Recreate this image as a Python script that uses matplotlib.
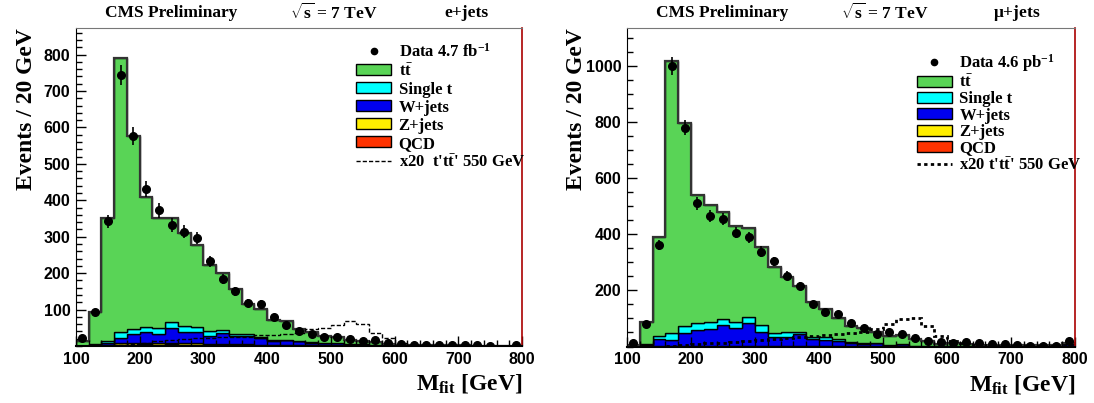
import numpy as np
import matplotlib
matplotlib.use("Agg")
from matplotlib import pyplot as plt
from matplotlib.patches import Patch
from matplotlib.lines import Line2D
from matplotlib.ticker import MultipleLocator

plt.rcParams['font.family'] = ['Liberation Serif', 'DejaVu Serif']
plt.rcParams['font.weight'] = 'bold'
plt.rcParams['mathtext.fontset'] = 'custom'
plt.rcParams['mathtext.rm'] = 'Liberation Serif:bold'
plt.rcParams['mathtext.bf'] = 'Liberation Serif:bold'
plt.rcParams['mathtext.it'] = 'Liberation Serif:bold'

# bins: 20 GeV from 100 to 800
edges = np.arange(100, 801, 20)
centers = edges[:-1] + 10

# ---- e+jets ----
tt_e = [14, 88, 338, 754, 530, 357, 302, 286, 254, 226, 181, 157, 123, 84, 76, 55, 52, 34,
        28, 20, 16, 12, 10, 7, 3, 2, 1.5, 1.5, 1.5, 1, 1, 0.5, 0.5, 0.5, 0.5]
st_e = [0.5, 2, 6, 17, 13, 14, 16, 16, 17, 14, 12, 8, 7, 4, 3, 2, 1, 1,
        1, 1, 1, 1, 1, 1, 0.5, 0.2, 0.3, 0.1, 0.1, 0.1, 0.1, 0.1, 0.1, 0.1, 0.1]
w_e = [0.5, 2.5, 6.5, 14, 27, 29, 27, 41, 31, 31, 22, 30, 22, 23, 18, 12, 13, 11,
       7.5, 6, 6, 3.5, 3.5, 2.7, 1.4, 0.7, 0.6, 0.4, 0.4, 0.4, 0.4, 0.4, 0.4, 0.4, 0.4]
z_e = [0, 0.2, 0.5, 3, 3, 4, 3, 4, 3, 3, 2, 2, 2, 2, 1, 1, 1, 0.5,
       0.5, 0.3, 0.5, 0.2, 0.2, 0.1, 0, 0, 0, 0, 0, 0, 0, 0, 0, 0, 0]
qcd_e = [0, 0.3, 1, 4, 4, 5, 4, 5, 4, 4, 4, 4, 3, 3, 3, 2, 2, 1.5,
         1, 0.7, 0.5, 0.3, 0.3, 0.2, 0.1, 0.1, 0, 0, 0, 0, 0, 0, 0, 0, 0]
data_e = [23, 93, 342, 745, 576, 431, 372, 332, 314, 296, 233, 184, 150, 118, 116, 80, 57, 42,
          32, 24, 24, 18, 14, 17, 8, 6, 4, 3, 2, 2, 2, 2, 1, 0, 4]
sig_e = [0, 0, 0, 2, 5, 9, 13, 16, 18, 22, 23, 25, 25, 26, 30, 31, 33, 36,
         46, 50, 58, 68, 61, 37, 21, 8, 4, 2, 1, 0.5, 0.5, 0.5, 0.5, 0.5, 0.5]

# ---- mu+jets ----
tt_m = [3, 81, 352, 971, 722, 455, 417, 383, 344, 318, 277, 236, 194, 162, 124, 100, 73, 57,
        54, 41, 33, 32, 23, 19, 8, 12, 8, 5, 5, 5, 3, 3, 3, 3, 1]
st_m = [1, 3, 12, 24, 27, 26, 27, 21, 21, 23, 24, 14, 17, 7, 8, 10, 6, 3,
        2, 1, 1, 1, 1, 0.5, 0.2, 0.2, 0.2, 0.2, 0.2, 0.2, 0.2, 0.2, 0.2, 0.2, 1]
w_m = [1, 4.5, 24, 21, 45, 57, 59, 75, 63, 81, 51.5, 34, 34, 44, 24, 22, 20.5, 13.6,
       8.8, 10.8, 2.8, 7.8, 1.8, 1.3, 0.6, 0.6, 0.6, 0.6, 0.6, 0.6, 0.6, 0.6, 0.6, 0.6, 9.8]
z_m = [0, 0.2, 0.5, 1, 1, 1, 1, 1, 1, 1, 0.7, 0.5, 0.5, 0.5, 0.5, 0.5, 0.2, 0.2,
       0.1, 0.1, 0.1, 0.1, 0, 0, 0, 0, 0, 0, 0, 0, 0, 0, 0, 0, 0]
qcd_m = [0, 0.3, 0.5, 1, 1, 1, 1, 1, 1, 1, 0.8, 0.5, 0.5, 0.5, 0.5, 0.5, 0.3, 0.2,
         0.1, 0.1, 0.1, 0.1, 0, 0, 0, 0, 0, 0, 0, 0, 0, 0, 0, 0, 0]
data_m = [11, 79, 362, 1000, 780, 510, 466, 455, 406, 389, 338, 303, 252, 216, 150, 124, 116, 85,
          65, 43, 53, 46, 29, 20, 17, 14, 15, 11, 9, 9, 6, 3, 3, 2, 21]
sig_m = [0, 0, 0, 2, 5, 8, 12, 14, 16, 20, 24, 27, 30, 34, 37, 40, 46, 48,
         50, 62, 79, 97, 101, 73, 38, 21, 12, 6, 3, 2, 1, 1, 0.5, 0.5, 1]

colors = ['#ff3300', '#ffee00', '#0000ee', '#00ffff', '#59d456']   # QCD, Z, W, single t, ttbar
labels_e = [r'Data 4.7 fb$^{-1}$', r't$\bar{\mathrm{t}}$', 'Single t', 'W+jets', 'Z+jets', 'QCD',
            r"x20  t't$\bar{\mathrm{t}}$' 550 GeV"]
labels_m = [r'Data 4.6 pb$^{-1}$', r't$\bar{\mathrm{t}}$', 'Single t', 'W+jets', 'Z+jets', 'QCD',
            r"x20 t't$\bar{\mathrm{t}}$' 550 GeV"]


def draw_panel(ax, comps, data, sig, ymax, yticks, yminor, labels, sig_ls, sig_lw, leg_pos, leg_sp):
    bottom = np.zeros(len(edges) - 1)
    for vals, c in zip(comps, colors):
        top = bottom + np.array(vals)
        ax.stairs(top, edges, baseline=bottom, fill=True, facecolor=c,
                  edgecolor='black', lw=1.0)
        bottom = top
    ax.stairs(bottom, edges, baseline=None, color='#333333', lw=1.6)

    ax.stairs(sig, edges, baseline=None, color='black', ls=sig_ls, lw=sig_lw)

    d = np.array(data, dtype=float)
    m = d > 0
    ax.errorbar(centers[m], d[m], yerr=np.sqrt(d[m]), fmt='o', color='black',
                ms=5.5, elinewidth=1.2, capsize=0, zorder=5)

    ax.set_xlim(100, 800)
    ax.set_ylim(0, ymax)
    ax.set_yticks(yticks)
    ax.yaxis.set_minor_locator(MultipleLocator(yminor))
    ax.set_xticks(np.arange(100, 801, 100))
    ax.xaxis.set_minor_locator(MultipleLocator(20))
    ax.tick_params(which='both', direction='in', top=False, right=False)
    ax.tick_params(which='major', length=7, width=1, pad=4)
    ax.tick_params(which='minor', length=4, width=1)
    for lab in ax.get_xticklabels() + ax.get_yticklabels():
        lab.set_fontfamily('Liberation Sans')
        lab.set_fontweight('bold')
        lab.set_fontsize(11.5)

    ax.spines['top'].set_color('#777777')
    ax.spines['right'].set_color('#aa0000')
    ax.spines['right'].set_linewidth(1.2)
    ax.spines['bottom'].set_linewidth(1.5)

    ax.text(1.0, -0.138, r'M$_{\mathrm{fit}}$ [GeV]', transform=ax.transAxes,
            ha='right', va='baseline', fontsize=17)
    ax.text(-0.112, 1.0, 'Events / 20 GeV', transform=ax.transAxes, rotation=90,
            ha='center', va='top', fontsize=17)

    handles = [Line2D([], [], marker='o', ls='none', color='black', ms=4.5)]
    for c in colors[::-1]:
        handles.append(Patch(facecolor=c, edgecolor='black', lw=1))
    handles.append(Line2D([], [], color='black', ls=sig_ls, lw=sig_lw))
    order = [0, 1, 2, 3, 4, 5, 6]
    ax.legend([handles[i] for i in order], labels, loc='upper left', bbox_to_anchor=leg_pos,
              frameon=False, fontsize=12, handlelength=2.1, handleheight=0.65,
              handletextpad=0.45, labelspacing=leg_sp, borderpad=0, borderaxespad=0)


fig = plt.figure(figsize=(10.94, 4.03), dpi=100)
ax1 = fig.add_axes([76 / 1094, 1 - 346 / 403, 446 / 1094, 318 / 403])
ax2 = fig.add_axes([627 / 1094, 1 - 346.5 / 403, 448 / 1094, 318.5 / 403])

draw_panel(ax1, [qcd_e, z_e, w_e, st_e, tt_e], data_e, sig_e, 873,
           np.arange(100, 801, 100), 20, labels_e, (0, (3, 1.5)), 1.0, (0.628, 0.953), 0.12)
draw_panel(ax2, [qcd_m, z_m, w_m, st_m, tt_m], data_m, sig_m, 1135,
           np.arange(200, 1001, 200), 50, labels_m, (0, (1.2, 1.2)), 2.0, (0.647, 0.925), 0.02)

# headers
for x0, chan in [(76, 'e+jets'), (627, r'$\mathrm{\mu}$+jets')]:
    fig.text((x0 + 95) / 1094, 1 - 13 / 403, 'CMS Preliminary', ha='center', va='center', fontsize=12.5)
    fig.text((x0 + 258) / 1094, 1 - 13 / 403, r'$\sqrt{\mathrm{s}}$ = 7 TeV', ha='center', va='center', fontsize=12.5)
    fig.text((x0 + 390) / 1094, 1 - 13 / 403, chan, ha='center', va='center', fontsize=12.5)

fig.savefig('out.png', dpi=100)
